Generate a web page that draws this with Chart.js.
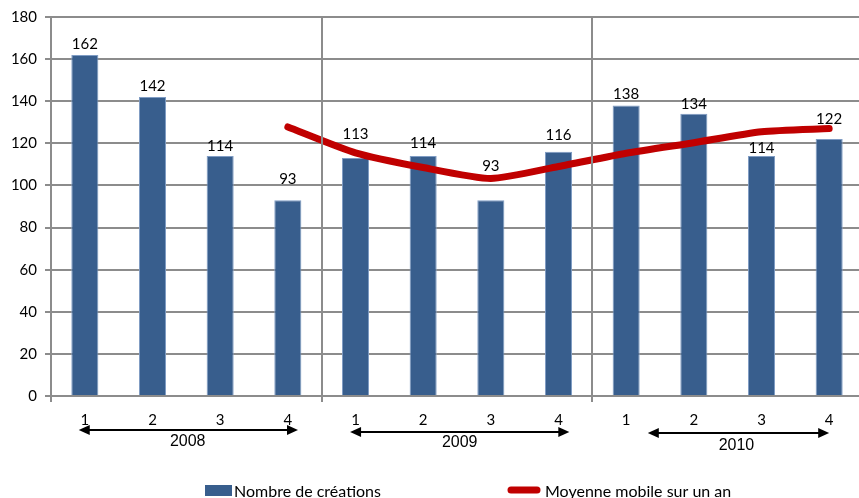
<!DOCTYPE html>
<html>
<head>
<meta charset="utf-8">
<script src="https://cdn.jsdelivr.net/npm/chart.js@4/dist/chart.umd.min.js"></script>
<style>
  html, body { margin: 0; padding: 0; background: #fff; overflow: hidden; }
  #wrap { width: 864px; height: 498px; }
</style>
</head>
<body>
<div id="wrap"><canvas id="chart" width="864" height="498"></canvas></div>
<script>
const quarters = ['1', '2', '3', '4', '1', '2', '3', '4', '1', '2', '3', '4'];
const years = ['2008', '2009', '2010'];
const creations = [162, 142, 114, 93, 113, 114, 93, 116, 138, 134, 114, 122];
const movingAvg = [null, null, null, 127.8, 115.5, 108.5, 103.3, 109, 115.3, 120.3, 125.5, 127];
const yTicks = [0, 20, 40, 60, 80, 100, 120, 140, 160, 180];

const BAR = '#385E8D';
const RED = '#C00000';
const GRID = '#8C8C8C';
const CAL = 'Lato, "Open Sans", sans-serif';

// label offsets above bar tops (px) and year arrows in category units
const labelLift = [11, 11, 10, 21, 24, 13, 34, 17, 11, 10, 8, 20];
const yearArrows = [
    { from: -0.09, to: 3.15, text: 1.52, y: 430, ty: 442 },
    { from: 3.92, to: 7.16, text: 5.54, y: 432, ty: 443 },
    { from: 8.32, to: 11.0, text: 9.63, y: 433, ty: 446 }
];

function arrowHead(ctx, x, y, dir) {
    ctx.beginPath();
    ctx.moveTo(x, y);
    ctx.lineTo(x - dir * 11, y - 5);
    ctx.lineTo(x - dir * 11, y + 5);
    ctx.closePath();
    ctx.fill();
}

const extras = {
    id: 'extras',
    afterDatasetsDraw(chart) {
        const ctx = chart.ctx;
        const x = chart.scales.x;
        const area = chart.chartArea;
        const step = x.getPixelForValue(1) - x.getPixelForValue(0);

        // year separators + small ticks below axis
        ctx.save();
        ctx.strokeStyle = GRID;
        ctx.lineWidth = 2;
        [3, 7].forEach(v => {
            const px = Math.round(x.getPixelForValue(v) + step / 2);
            ctx.beginPath();
            ctx.moveTo(px, area.top);
            ctx.lineTo(px, area.bottom + 6);
            ctx.stroke();
        });
        ctx.beginPath();
        ctx.moveTo(area.left, area.bottom);
        ctx.lineTo(area.left, area.bottom + 6);
        ctx.stroke();
        ctx.restore();

        // value labels on bars
        const meta = chart.getDatasetMeta(0);
        ctx.save();
        ctx.font = '15px ' + CAL;
        ctx.fillStyle = '#000';
        ctx.textAlign = 'center';
        ctx.textBaseline = 'middle';
        meta.data.forEach((bar, i) => {
            ctx.fillText(String(creations[i]), bar.x, bar.y - labelLift[i]);
        });
        ctx.restore();
    },
    afterDraw(chart) {
        const ctx = chart.ctx;
        const x = chart.scales.x;
        const step = x.getPixelForValue(1) - x.getPixelForValue(0);
        const at = v => x.getPixelForValue(0) + v * step;

        // year arrows
        ctx.save();
        ctx.strokeStyle = '#000';
        ctx.fillStyle = '#000';
        ctx.lineWidth = 2;
        yearArrows.forEach(a => {
            const x0 = at(a.from), x1 = at(a.to);
            ctx.beginPath();
            ctx.moveTo(x0 + 4, a.y);
            ctx.lineTo(x1 - 4, a.y);
            ctx.stroke();
            arrowHead(ctx, x0, a.y, -1);
            arrowHead(ctx, x1, a.y, 1);
        });
        ctx.font = '16px "Liberation Sans", Arial, sans-serif';
        ctx.textAlign = 'center';
        ctx.textBaseline = 'middle';
        yearArrows.forEach((a, i) => ctx.fillText(years[i], at(a.text), a.ty));
        ctx.restore();

        // legend
        const ds = chart.data.datasets;
        ctx.save();
        ctx.font = '16px ' + CAL;
        ctx.textBaseline = 'alphabetic';
        ctx.fillStyle = ds[0].backgroundColor;
        ctx.fillRect(205, 485, 27, 11);
        ctx.fillStyle = '#000';
        ctx.fillText(ds[0].label, 234, 497);
        ctx.strokeStyle = ds[1].borderColor;
        ctx.lineWidth = 7;
        ctx.lineCap = 'round';
        ctx.beginPath();
        ctx.moveTo(511, 490);
        ctx.lineTo(537, 490);
        ctx.stroke();
        ctx.fillText(ds[1].label, 545, 497);
        ctx.restore();
    }
};

new Chart(document.getElementById('chart'), {
    type: 'bar',
    data: {
        labels: quarters,
        datasets: [
            {
                type: 'bar',
                label: 'Nombre de créations',
                data: creations,
                backgroundColor: BAR,
                borderColor: '#7F9CC4',
                borderWidth: 1,
                barPercentage: 0.4,
                categoryPercentage: 1,
                order: 2
            },
            {
                type: 'line',
                label: 'Moyenne mobile sur un an',
                data: movingAvg,
                borderColor: RED,
                backgroundColor: RED,
                borderWidth: 7,
                borderCapStyle: 'round',
                borderJoinStyle: 'round',
                pointRadius: 0,
                tension: 0.2,
                order: 1
            }
        ]
    },
    options: {
        responsive: false,
        animation: false,
        layout: { padding: { top: 0, right: 1, bottom: 0, left: 0 } },
        plugins: {
            legend: { display: false },
            tooltip: { enabled: false }
        },
        scales: {
            x: {
                grid: { display: false },
                border: { display: false },
                ticks: { color: '#000', font: { size: 15, family: CAL }, padding: 7, maxRotation: 0 },
                afterFit(s) { s.height = 102; }
            },
            y: {
                min: 0,
                max: 180,
                afterBuildTicks(s) { s.ticks = yTicks.map(v => ({ value: v })); },
                grid: { color: GRID, lineWidth: 2, tickLength: 6 },
                border: { color: GRID, width: 2 },
                ticks: { color: '#000', font: { size: 15, family: CAL }, padding: 8 },
                afterFit(s) { s.width = 51; }
            }
        }
    },
    plugins: [extras]
});
</script>
</body>
</html>
